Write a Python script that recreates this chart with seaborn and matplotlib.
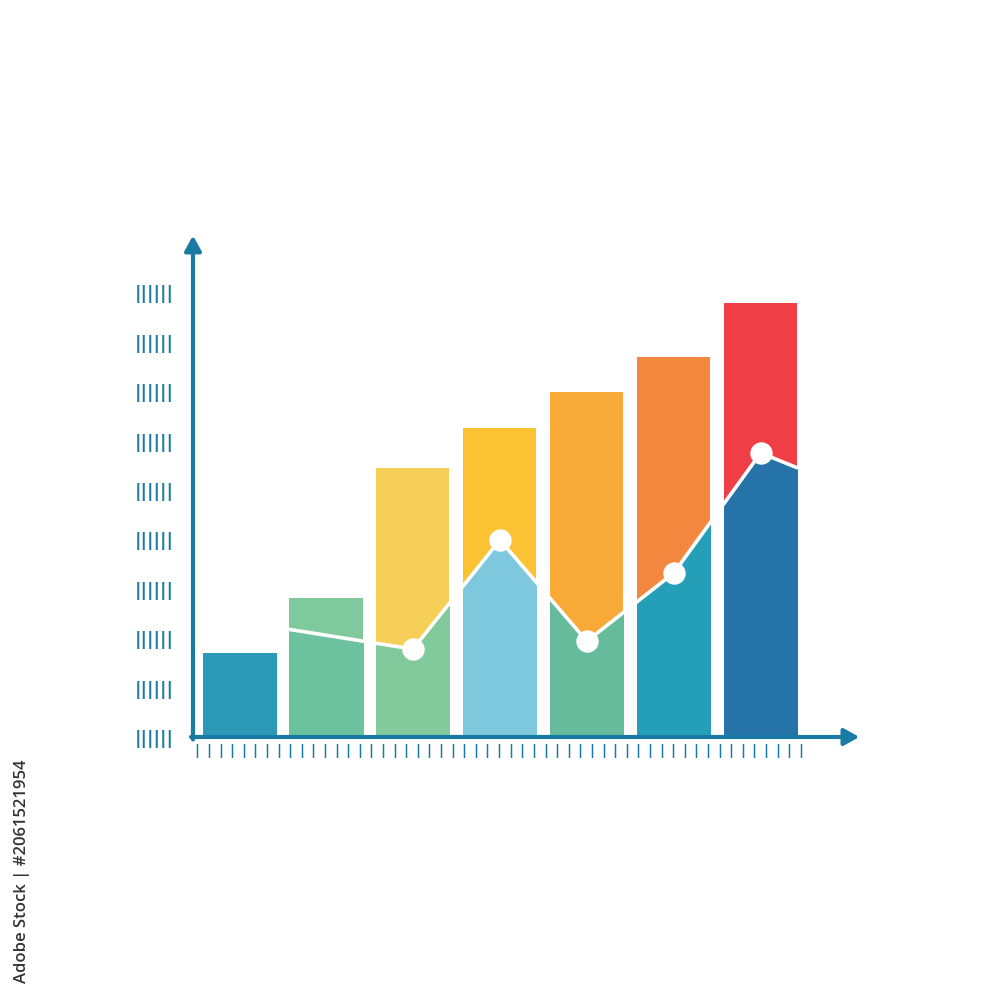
import numpy as np
import matplotlib
matplotlib.use("Agg")
import matplotlib.pyplot as plt
import seaborn as sns

# data
cats = ["A", "B", "C", "D", "E", "F", "G"]
bar_tops = [17.0, 28.1, 54.5, 62.6, 69.8, 76.9, 87.9]
top_colors = ["#2a9ab8", "#80c99c", "#f6cf58", "#fbc234", "#f8aa38", "#f2873d", "#ef3e46"]
low_colors = ["#2a9ab8", "#6cc29f", "#82c99c", "#7dc8dc", "#65bb9b", "#259fb8", "#2673a9"]
line_x = [0, 1, 2, 3, 4, 5, 6, 6.42]
line_y = [23.4, 20.6, 17.8, 39.9, 19.4, 33.2, 57.5, 54.5]
dot_idx = [2, 3, 4, 5, 6]
y_ticks = [0, 10, 20, 30, 40, 50, 60, 70, 80, 90]
axis_col = "#1b7aa3"

sns.set_style("white")
fig = plt.figure(figsize=(10, 10), dpi=100)
ax = fig.add_axes([0.193, 0.263, 0.652, 0.494])

sns.barplot(x=cats, y=bar_tops, hue=cats, palette=top_colors, legend=False,
            width=0.84, saturation=1, linewidth=0, ax=ax)
bars = list(ax.patches)

# lower part under the line, clipped to each bar
for b, c in zip(bars, low_colors):
    poly = ax.fill_between(line_x + [7.5], line_y + [line_y[-1]], 0, color=c,
                           linewidth=0, zorder=3)
    poly.set_clip_path(b)

ax.plot(line_x, line_y, color="white", lw=2.6, zorder=4)
ax.scatter([line_x[i] for i in dot_idx], [line_y[i] for i in dot_idx],
           s=260, color="white", zorder=5, linewidths=0)

ax.set_xlim(-0.53, 6.97)
ax.set_ylim(0, 100)
for s in ax.spines.values():
    s.set_visible(False)

# axes with arrows
ax.annotate("", xy=(0, 1.015), xytext=(0, -0.005), xycoords="axes fraction",
            arrowprops=dict(arrowstyle="-|>,head_width=0.5,head_length=0.9",
                            color=axis_col, lw=3, shrinkA=0, shrinkB=0))
ax.annotate("", xy=(1.022, 0), xytext=(-0.003, 0), xycoords="axes fraction",
            arrowprops=dict(arrowstyle="-|>,head_width=0.5,head_length=0.9",
                            color=axis_col, lw=3, shrinkA=0, shrinkB=0))

ax.set_yticks(y_ticks)
ax.set_yticklabels(["||||||"] * len(y_ticks), color=axis_col, fontsize=13,
                   fontweight="heavy")
ax.tick_params(axis="y", length=0, pad=14)

xt = np.arange(-0.483, 6.5, 0.1335)
ax.set_xticks(xt)
ax.set_xticklabels(["|"] * len(xt), color=axis_col, fontsize=10,
                   fontweight="bold")
ax.tick_params(axis="x", length=0, pad=5)
ax.set_xlabel("")
ax.set_ylabel("")

fig.text(0.022, 0.129, "Adobe Stock | #2061521954", rotation=90, ha="center",
         va="center", fontsize=12, color="#333333", family="Open Sans",
         fontweight="semibold")

fig.savefig("out.png", dpi=100, facecolor="white")
